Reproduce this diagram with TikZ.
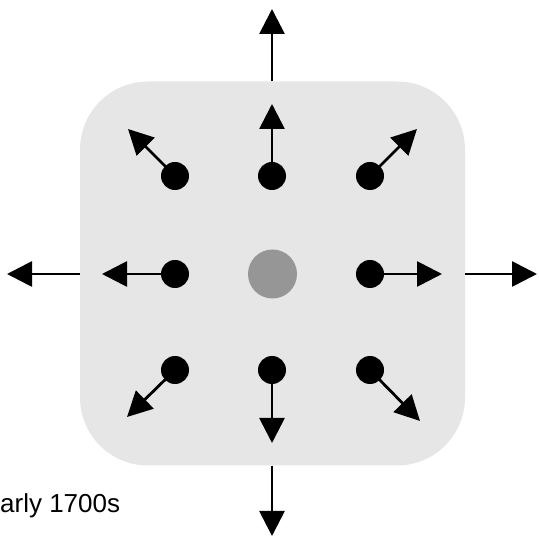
\documentclass[tikz,border=0pt]{standalone}
\usepackage{fontspec}
\setmainfont{Liberation Sans}
\usetikzlibrary{arrows.meta}
\definecolor{bgbox}{RGB}{230,230,230}
\definecolor{centerdot}{RGB}{150,150,150}
\tikzset{
  blackdot/.style={circle, fill=black, inner sep=0pt, minimum size=28pt},
  graydot/.style={circle, fill=centerdot, inner sep=0pt, minimum size=49pt},
  arr/.style={line width=2.8pt, -{Triangle[length=25pt,width=25pt]}},
  boxstyle/.style={fill=bgbox, rounded corners=68pt, minimum width=385pt, minimum height=384pt, inner sep=0pt}
}
\begin{document}
\begin{tikzpicture}[x=1pt,y=-1pt]
\useasboundingbox (0,0) rectangle (539,537);
\node[boxstyle] (box) at (272.5,273.5) {};
\node[graydot] (c) at (272.5,274) {};
\node[blackdot] (tl) at (175,176) {};
\node[blackdot] (tc) at (272,176) {};
\node[blackdot] (tr) at (370,176) {};
\node[blackdot] (ml) at (175,274) {};
\node[blackdot] (mr) at (370,274) {};
\node[blackdot] (bl) at (175,370) {};
\node[blackdot] (bc) at (272,370) {};
\node[blackdot] (br) at (370,370) {};
\coordinate (tlE) at (128,129);
\coordinate (tcE) at (272,104);
\coordinate (trE) at (417,129);
\coordinate (mlE) at (102,274);
\coordinate (mrE) at (442,274);
\coordinate (blE) at (127,417);
\coordinate (bcE) at (272,443);
\coordinate (brE) at (420,421);
\draw[arr] (tl.center) -- (tlE);
\draw[arr] (tc.center) -- (tcE);
\draw[arr] (tr.center) -- (trE);
\draw[arr] (ml.center) -- (mlE);
\draw[arr] (mr.center) -- (mrE);
\draw[arr] (bl.center) -- (blE);
\draw[arr] (bc.center) -- (bcE);
\draw[arr] (br.center) -- (brE);
\coordinate (oT) at (272,9);
\coordinate (oB) at (272,536);
\coordinate (oL) at (7,274);
\coordinate (oR) at (537,274);
\draw[arr] (box.north -| tc) -- (oT);
\draw[arr] (box.south -| bc) -- (oB);
\draw[arr] (box.west |- ml) -- (oL);
\draw[arr] (box.east |- mr) -- (oR);
\node[anchor=base west, inner sep=0pt, font=\fontsize{26}{30}\selectfont] (lbl) at (0,513) {arly 1700s};
\end{tikzpicture}
\end{document}
